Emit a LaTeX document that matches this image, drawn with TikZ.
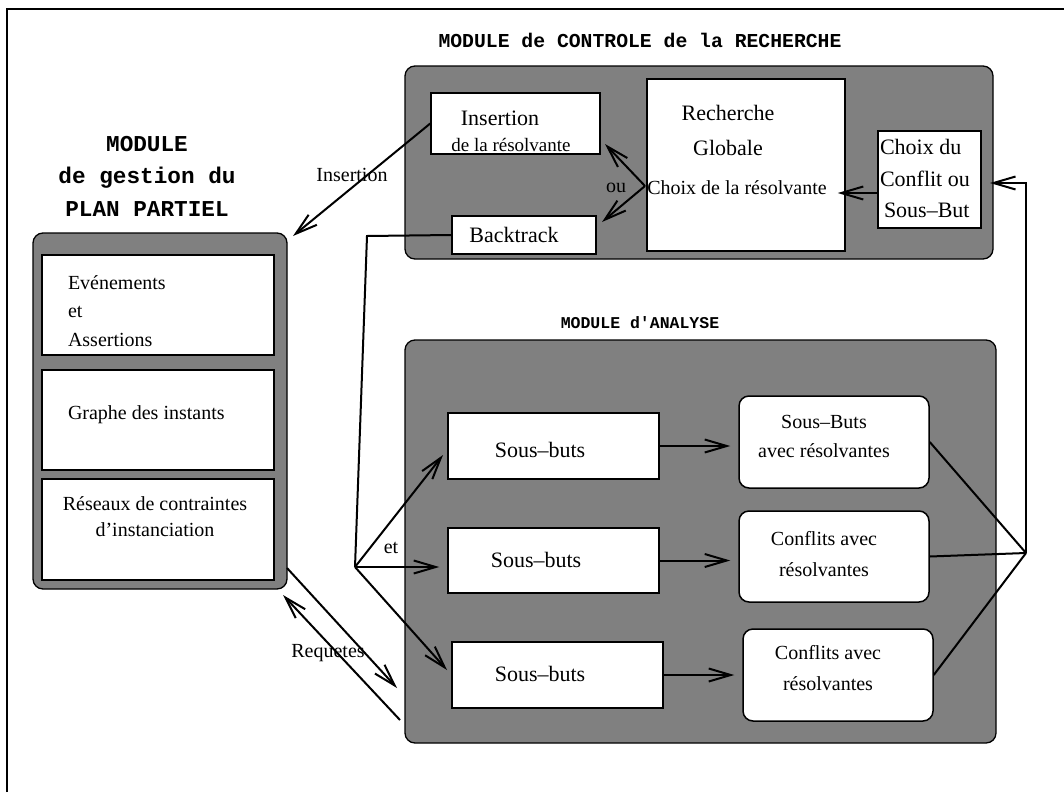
\documentclass[tikz,border=0pt]{standalone}
\usepackage{fontspec}
\setmainfont{Liberation Serif}
\setmonofont{Liberation Mono}
\usetikzlibrary{arrows.meta,positioning,shapes}
\newcommand{\fsz}[2]{\fontsize{#1}{#2}\selectfont}

\begin{document}
\begin{tikzpicture}[x=1pt,y=-1pt,->,>={Straight Barb[length=22pt,width=13pt]},
                    line width=2pt]
  \tikzstyle{box}=[draw,fill=white,line width=1.5pt,inner sep=0pt]
  \tikzstyle{rbox}=[box,rounded corners=10pt]
  \tikzstyle{module}=[draw,fill=black!50,line width=1.3pt,rounded corners=10pt,inner sep=0pt]
  \tikzstyle{txt}=[inner sep=0pt,font=\fsz{20}{29}]
  \tikzstyle{titre}=[inner sep=0pt,font=\ttfamily\bfseries\fsz{19.75}{20}]

  \useasboundingbox (0,0) rectangle (1064,792);
  \draw[-,line width=1.4pt] (7,792) -- (7,9) -- (1064,9);

  % les trois modules
  \node[module,minimum width=588pt,minimum height=193pt] (ctrl) at (699,162.5) {};
  \node[module,minimum width=254pt,minimum height=356pt] (pp)   at (160,411)   {};
  \node[module,minimum width=591pt,minimum height=403pt] (ana)  at (700.5,541.5) {};

  \node[titre] (tctrl) at (640,40) {MODULE de CONTROLE de la RECHERCHE};
  \node[titre,font=\ttfamily\bfseries\fsz{22.7}{32.5},align=center] (tpp) at (147,176)
       {MODULE\\de gestion du\\PLAN PARTIEL};
  \node[titre,font=\ttfamily\bfseries\fsz{16.5}{16.5}] (tana) at (640,323) {MODULE d'ANALYSE};

  % controle de la recherche
  \node[box,minimum width=169pt,minimum height=61pt]  (ins)   at (515.5,123.5) {};
  \node[box,minimum width=144pt,minimum height=38pt]  (bt)    at (524,235)     {};
  \node[box,minimum width=198pt,minimum height=172pt] (rech)  at (746,165)     {};
  \node[box,minimum width=103pt,minimum height=97pt]  (choix) at (929.5,179.5) {};

  \node[txt,font=\fsz{22}{22}] (tins) at (500,118) {Insertion};
  \node[txt,font=\fsz{19}{19}] (tres) at (511,145) {de la résolvante};
  \node[txt,font=\fsz{22}{22}] (tbt)  at (514,235) {Backtrack};
  \node[txt,font=\fsz{22}{35},align=center] (trech) at (728,130.5) {Recherche\\Globale};
  \node[txt] (tchres) at (737,188) {Choix de la résolvante};
  \node[txt,font=\fsz{22}{31.5},align=left,anchor=west] (tchoix) at (879,178.5)
       {Choix du\\Conflit ou\\\hspace{4pt}Sous--But};
  \node[txt] (tou) at (616,188) {ou};

  % plan partiel
  \node[box,minimum width=232pt,minimum height=100pt] (ev)  at (158,305)   {};
  \node[box,minimum width=232pt,minimum height=100pt] (gr)  at (158,420)   {};
  \node[box,minimum width=232pt,minimum height=101pt] (res) at (158,529.5) {};

  \node[txt,font=\fsz{20}{28.5},align=left,anchor=west] (tev) at (67,311)
       {Evénements\\et\\Assertions};
  \node[txt,anchor=west] (tgr) at (67,415) {Graphe des instants};
  \node[txt,font=\fsz{20}{26},align=center] (tres2) at (155,517)
       {Réseaux de contraintes\\d'instanciation};

  % analyse
  \node[box,minimum width=211pt,minimum height=66pt] (sb1) at (553.5,446)   {};
  \node[box,minimum width=211pt,minimum height=65pt] (sb2) at (553.5,560.5) {};
  \node[box,minimum width=211pt,minimum height=66pt] (sb3) at (557.5,675)   {};
  \node[rbox,minimum width=190pt,minimum height=92pt] (r1) at (834,442)   {};
  \node[rbox,minimum width=190pt,minimum height=91pt] (r2) at (834,556.5) {};
  \node[rbox,minimum width=190pt,minimum height=92pt] (r3) at (838,675)   {};

  \node[txt,font=\fsz{22}{22}] (tsb1) at (540,450) {Sous--buts};
  \node[txt,font=\fsz{22}{22}] (tsb2) at (536,560) {Sous--buts};
  \node[txt,font=\fsz{22}{22}] (tsb3) at (540,674) {Sous--buts};
  \node[txt,align=center] (tr1) at (824,436) {Sous--Buts\\avec résolvantes};
  \node[txt,font=\fsz{20}{31},align=center] (tr2) at (824,554) {Conflits avec\\résolvantes};
  \node[txt,font=\fsz{20}{31},align=center] (tr3) at (828,668) {Conflits avec\\résolvantes};

  % points de passage
  \coordinate (ouj)   at (645,186);
  \coordinate (insin) at (605,144);
  \coordinate (btin)  at (602,222);
  \coordinate (chw)   at ([yshift=-13.5pt]choix.west);
  \coordinate (chin)  at (990,183);
  \coordinate (jr)    at (1026,553);
  \coordinate (bk)    at (367,236);
  \coordinate (jl)    at (355,567);
  \coordinate (sb1in) at (443,455);
  \coordinate (sb3in) at (447,670);
  \coordinate (ppin)  at (293,236);
  \coordinate (rq1s)  at (287,568);
  \coordinate (rq1e)  at (397,688);
  \coordinate (rq2s)  at (400,720);
  \coordinate (rq2e)  at (283,595);

  \draw (ouj) -- (insin);
  \draw (ouj) -- (btin);
  \draw[shorten >=-8pt] (chw) -- (chw -| rech.east);
  \draw (jr) |- (chin);
  \draw (ins.west) -- (ppin);
  \node[txt] (tinsert) at (352,175) {Insertion};

  \draw[-] (bt.west) -- (bk) -- (jl);
  \draw (jl) -- (sb1in);
  \draw[shorten >=8pt] (jl) -- (jl -| sb2.west);
  \draw (jl) -- (sb3in);
  \node[txt] (tet) at (391,548) {et};

  \draw[shorten >=8pt] (sb1.east) -- (sb1.east -| r1.west);
  \draw[shorten >=8pt] (sb2.east) -- (sb2.east -| r2.west);
  \draw[shorten >=8pt] (sb3.east) -- (sb3.east -| r3.west);
  \path[-] (r1.east) edge (jr)
           (r2.east) edge (jr)
           (r3.east) edge (jr);

  \draw (rq1s) -- (rq1e);
  \draw (rq2s) -- (rq2e);
  \node[txt] (treq) at (328,653) {Requetes};

\end{tikzpicture}
\end{document}
